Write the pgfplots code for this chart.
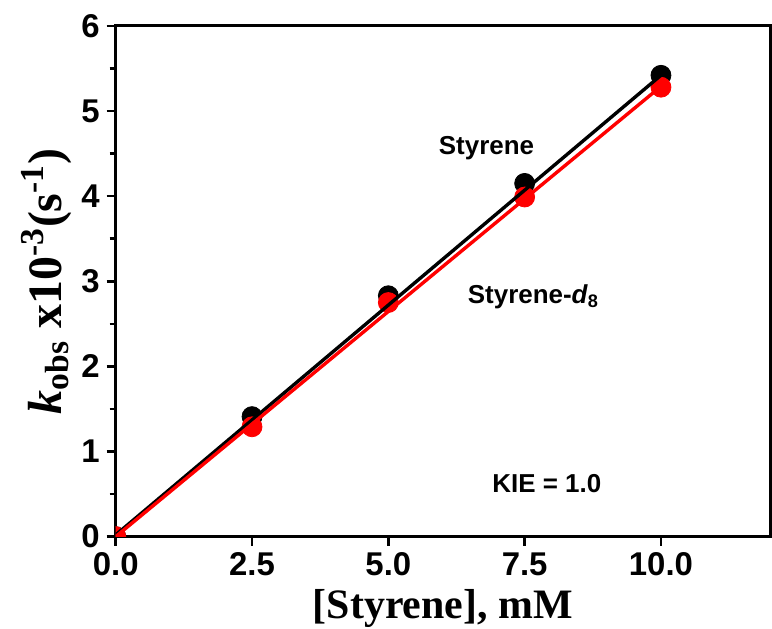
\documentclass[border=0pt]{standalone}
\usepackage{fontspec}
\setmainfont{Liberation Sans}
\newfontfamily\tnr{Liberation Serif}
\usepackage{pgfplots}
\pgfplotsset{compat=1.18}

\begin{document}
\begin{tikzpicture}
\begin{axis}[
    name=main,
    width=328pt, height=256pt, scale only axis,
    xmin=0, xmax=12, ymin=0, ymax=6,
    xtick={0,2.5,5,7.5,10},
    ytick={0,1,2,3,4,5,6},
    minor y tick num=1,
    tick pos=left, tick align=outside,
    major tick length=4.5pt, minor tick length=3pt,
    every tick/.style={black, line width=1.3pt},
    axis line style={line width=1.5pt},
    /pgf/number format/assume math mode=true,
    xticklabel style={/pgf/number format/.cd, fixed, fixed zerofill, precision=1},
    yticklabel style={/pgf/number format/.cd, fixed, precision=0},
    tick label style={font=\bfseries\fontsize{16.5}{16.5}\selectfont},
    xlabel={\tnr\bfseries\fontsize{21}{21}\selectfont [Styrene], mM},
    ylabel={\tnr\bfseries\fontsize{24}{24}\selectfont\textit{k}\textsubscript{obs} x10\textsuperscript{-3}(s\textsuperscript{-1})},
    ylabel style={yshift=-2pt},
    clip marker paths=true,
]
% data points
\addplot[only marks, mark=*, mark size=5pt, black] coordinates {
    (0,0) (2.5,1.41) (5,2.83) (7.5,4.15) (10,5.42)
};
\addplot[only marks, mark=*, mark size=5pt, red] coordinates {
    (0,0) (2.5,1.29) (5,2.75) (7.5,3.99) (10,5.28)
};
% fitted lines
\addplot[black, line width=1.7pt, no marks] coordinates {(0,0.02) (10,5.42)};
\addplot[red, line width=1.7pt, no marks] coordinates {(0,0) (10,5.29)};

\node[font=\bfseries\fontsize{13}{13}\selectfont] at (axis cs:6.80,4.56) {Styrene};
\node[anchor=west, font=\bfseries\fontsize{13}{13}\selectfont] at (axis cs:6.33,2.82) {Styrene-\textit{d}\textsubscript{8}};
\node[anchor=west, font=\bfseries\fontsize{13}{13}\selectfont] at (axis cs:6.78,0.62) {KIE = 1.0};
\node[anchor=base, font=\tnr\bfseries\fontsize{20}{20}\selectfont] at ([yshift=13pt]axis cs:5.2,6) {(a)};
\end{axis}
\pgfresetboundingbox
\useasboundingbox ([xshift=-58pt, yshift=-46pt]main.south west) rectangle ([xshift=1pt, yshift=13pt]main.north east);
\end{tikzpicture}
\end{document}
